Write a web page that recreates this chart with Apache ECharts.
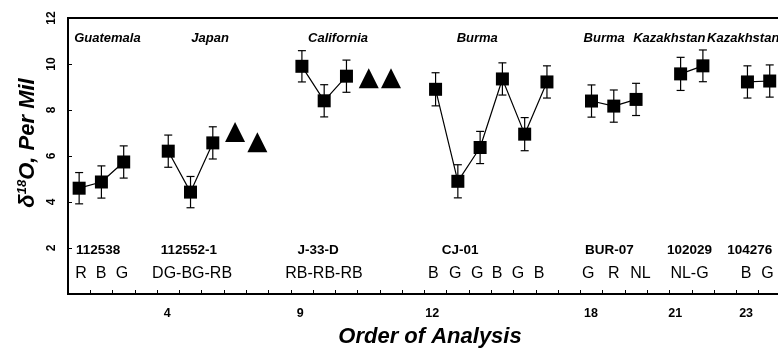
<!DOCTYPE html>
<html>
<head>
<meta charset="utf-8">
<title>Oxygen isotope ratios by order of analysis</title>
<script src="https://cdn.jsdelivr.net/npm/echarts@6/dist/echarts.min.js"></script>
<style>
  html, body { margin: 0; padding: 0; background: #fff; }
  #chart { width: 778px; height: 352px; }
</style>
</head>
<body>
<div id="chart"></div>
<script>
// Measured samples: analysis slot, δ18O (‰) and 1σ uncertainty; runGroup joins points of one sample run
const slotX    = [0, 1, 2, 4, 5, 6, 10, 11, 12, 16, 17, 18, 19, 20, 21, 23, 24, 25, 27, 28, 30, 31];
const d18O     = [4.60, 4.87, 5.74, 6.21, 4.43, 6.57, 9.90, 8.40, 9.47, 8.90, 4.90, 6.37, 9.35, 6.95, 9.22, 8.39, 8.17, 8.46, 9.57, 9.92, 9.22, 9.26];
const sigma    = [0.68, 0.70, 0.70, 0.70, 0.68, 0.70, 0.68, 0.70, 0.70, 0.72, 0.72, 0.70, 0.70, 0.72, 0.70, 0.70, 0.70, 0.70, 0.72, 0.69, 0.70, 0.70];
const runGroup = [0, 0, 0, 1, 1, 1, 2, 2, 2, 3, 3, 3, 3, 3, 3, 4, 4, 4, 5, 5, 6, 6];

// Reference values (triangles)
const triangleX = [7, 8, 13, 14];
const triangleY = [7.04, 6.60, 9.38, 9.38];

// Locality headings
const localityNames = ['Guatemala', 'Japan', 'California', 'Burma', 'Burma', 'Kazakhstan', 'Kazakhstan'];
const localityX     = [1.27, 5.88, 11.62, 17.87, 23.57, 26.49, 29.81];

// Sample identifiers
const sampleIds = ['112538', '112552-1', 'J-33-D', 'CJ-01', 'BUR-07', '102029', '104276'];
const sampleX   = [0.85, 4.93, 10.73, 17.10, 23.80, 27.40, 30.10];

// Colour codes of the analysed stones
const colourCodes = ['R', 'B', 'G', 'DG-BG-RB', 'RB-RB-RB', 'B', 'G', 'G', 'B', 'G', 'B', 'G', 'R', 'NL', 'NL-G', 'B', 'G'];
const colourX     = [0.08, 0.98, 1.92, 5.07, 10.99, 15.90, 16.88, 17.87, 18.76, 19.70, 20.65, 22.85, 24.00, 25.20, 27.40, 29.94, 30.90];

// Order-of-analysis numbers under the axis
const orderLabels = ['4', '9', '12', '18', '21', '23'];
const orderX      = [3.95, 9.92, 15.85, 22.98, 26.76, 29.94];

// Axis ranges
const xMin = -0.5, xMax = 32;
const yMin = 0, yMax = 12, yStep = 2;

const FONT = "'Liberation Sans', Arial, Helvetica, sans-serif";

// Row heights (in δ18O units) for the text rows
const ROW_LOCALITY = 11.13;
const ROW_SAMPLE = 1.88;
const ROW_COLOUR = 0.88;
const ROW_ORDER = -0.83;

// Build line data, breaking the line between sample runs
const lineData = [];
slotX.forEach((x, i) => {
  if (i > 0 && runGroup[i] !== runGroup[i - 1]) lineData.push([x - 0.5, '-']);
  lineData.push([x, d18O[i]]);
});

const squareData = slotX.map((x, i) => [x, d18O[i]]);
const errData = slotX.map((x, i) => [x, d18O[i], sigma[i]]);
const triData = triangleX.map((x, i) => [x, triangleY[i]]);

function textSeries(name, xs, texts, row, style) {
  return {
    name: name,
    type: 'custom',
    clip: false,
    silent: true,
    z: 5,
    data: xs.map((x, i) => [x, row, i]),
    renderItem: function (params, api) {
      const p = api.coord([api.value(0), api.value(1)]);
      return {
        type: 'text',
        x: p[0],
        y: p[1],
        style: Object.assign({
          text: texts[api.value(2)],
          align: 'center',
          verticalAlign: 'middle',
          fill: '#000'
        }, style)
      };
    }
  };
}

const chart = echarts.init(document.getElementById('chart'), null, { renderer: 'canvas' });

chart.setOption({
  animation: false,
  backgroundColor: '#fff',
  grid: {
    left: 68,
    top: 18,
    bottom: 58,
    width: 724,
    outerBoundsMode: 'none',
    containLabel: false,
    show: true,
    borderColor: '#000',
    borderWidth: 2,
    backgroundColor: 'transparent'
  },
  xAxis: {
    type: 'value',
    min: xMin,
    max: xMax,
    interval: 1,
    name: 'Order of Analysis',
    nameLocation: 'middle',
    nameGap: 32,
    nameTextStyle: {
      fontFamily: FONT,
      fontWeight: 'bold',
      fontStyle: 'italic',
      fontSize: 22,
      color: '#000'
    },
    axisLine: { show: true, onZero: false, lineStyle: { color: '#000', width: 2 } },
    axisTick: { show: true, inside: true, length: 4, lineStyle: { color: '#000', width: 1 } },
    axisLabel: { show: false },
    splitLine: { show: false }
  },
  yAxis: {
    type: 'value',
    min: yMin,
    max: yMax,
    interval: yStep,
    axisLine: { show: true, onZero: false, lineStyle: { color: '#000', width: 2 } },
    axisTick: { show: true, inside: true, length: 4, lineStyle: { color: '#000', width: 1 } },
    axisLabel: {
      rotate: 90,
      margin: 10,
      fontFamily: FONT,
      fontWeight: 'bold',
      fontSize: 12,
      color: '#000',
      formatter: v => (v === 0 ? '' : String(v))
    },
    splitLine: { show: false }
  },
  graphic: [{
    type: 'text',
    x: 28,
    y: 143,
    rotation: Math.PI / 2,
    style: {
      text: '{d|δ}{s|18}{t|O, Per Mil}',
      align: 'center',
      verticalAlign: 'middle',
      fill: '#000',
      rich: {
        d: { fontFamily: FONT, fontWeight: 'bold', fontStyle: 'italic', fontSize: 22, lineHeight: 24, fill: '#000' },
        s: { fontFamily: FONT, fontWeight: 'bold', fontStyle: 'italic', fontSize: 13, lineHeight: 13, fill: '#000', verticalAlign: 'top' },
        t: { fontFamily: FONT, fontWeight: 'bold', fontStyle: 'italic', fontSize: 22, lineHeight: 24, fill: '#000' }
      }
    }
  }],
  series: [
    {
      name: 'error',
      type: 'custom',
      z: 2,
      data: errData,
      renderItem: function (params, api) {
        const x = api.value(0), y = api.value(1), e = api.value(2);
        const top = api.coord([x, y + e]);
        const bot = api.coord([x, y - e]);
        const half = 4;
        const st = { stroke: '#000', lineWidth: 1.2 };
        return {
          type: 'group',
          children: [
            { type: 'line', shape: { x1: top[0], y1: top[1], x2: bot[0], y2: bot[1] }, style: st },
            { type: 'line', shape: { x1: top[0] - half, y1: top[1], x2: top[0] + half, y2: top[1] }, style: st },
            { type: 'line', shape: { x1: bot[0] - half, y1: bot[1], x2: bot[0] + half, y2: bot[1] }, style: st }
          ]
        };
      }
    },
    {
      name: 'run',
      type: 'line',
      z: 3,
      data: lineData,
      connectNulls: false,
      showSymbol: false,
      symbol: 'none',
      lineStyle: { color: '#000', width: 1.2 }
    },
    {
      name: 'δ18O',
      type: 'scatter',
      z: 4,
      data: squareData,
      symbol: 'rect',
      symbolSize: 13,
      itemStyle: { color: '#000', opacity: 1 }
    },
    {
      name: 'reference',
      type: 'scatter',
      z: 4,
      data: triData,
      symbol: 'triangle',
      symbolSize: [20, 20],
      itemStyle: { color: '#000', opacity: 1 }
    },
    textSeries('locality', localityX, localityNames, ROW_LOCALITY,
      { fontFamily: FONT, fontWeight: 'bold', fontStyle: 'italic', fontSize: 13 }),
    textSeries('sample', sampleX, sampleIds, ROW_SAMPLE,
      { fontFamily: FONT, fontWeight: 'bold', fontSize: 13.5 }),
    textSeries('colour', colourX, colourCodes, ROW_COLOUR,
      { fontFamily: FONT, fontSize: 16 }),
    textSeries('order', orderX, orderLabels, ROW_ORDER,
      { fontFamily: FONT, fontWeight: 'bold', fontSize: 12.5 })
  ]
});
</script>
</body>
</html>
